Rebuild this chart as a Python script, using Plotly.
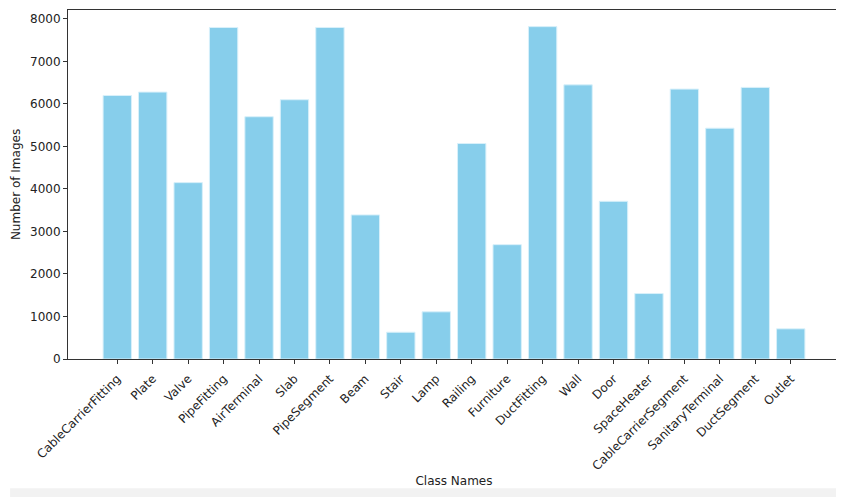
import plotly.graph_objects as go

classes = ["CableCarrierFitting", "Plate", "Valve", "PipeFitting", "AirTerminal", "Slab",
           "PipeSegment", "Beam", "Stair", "Lamp", "Railing", "Furniture", "DuctFitting",
           "Wall", "Door", "SpaceHeater", "CableCarrierSegment", "SanitaryTerminal",
           "DuctSegment", "Outlet"]
counts = [6200, 6280, 4150, 7800, 5700, 6100, 7800, 3390, 630, 1110, 5070, 2690, 7820,
          6450, 3710, 1540, 6350, 5430, 6390, 710]
y_ticks = [0, 1000, 2000, 3000, 4000, 5000, 6000, 7000, 8000]

fig = go.Figure(go.Bar(
    x=list(range(len(classes))), y=counts, width=0.8,
    marker=dict(color="#87CEEB", line=dict(color="#d8f0fa", width=1)),
))

font = dict(family="DejaVu Sans", size=12, color="#222")
fig.update_layout(
    width=836, height=489,
    margin=dict(l=60, r=4, t=2, b=138),
    plot_bgcolor="white", paper_bgcolor="white",
    font=font, showlegend=False,
    shapes=[dict(type="rect", xref="paper", yref="paper", x0=-0.075, x1=1.01,
                 y0=-0.40, y1=-0.37, fillcolor="#f2f2f2", line=dict(width=0), layer="below")],
)
fig.update_xaxes(
    automargin=False,
    range=[-1.39, 20.39], tickmode="array", tickvals=list(range(len(classes))),
    ticktext=classes, tickangle=-45, ticks="outside", ticklen=4, tickcolor="#333",
    ticklabelstandoff=3,
    showline=True, linecolor="#333", linewidth=1, mirror=True, showgrid=False,
    title=dict(text="Class Names", standoff=4, font=font), tickfont=font,
)
fig.update_yaxes(
    automargin=False,
    range=[0, 8211], tickmode="array", tickvals=y_ticks, ticks="outside", ticklen=4,
    tickcolor="#333", showline=True, linecolor="#333", linewidth=1, mirror=True,
    showgrid=False, zeroline=False, title=dict(text="Number of Images", standoff=6, font=font),
    tickfont=font,
)
fig.write_html("out.html")
